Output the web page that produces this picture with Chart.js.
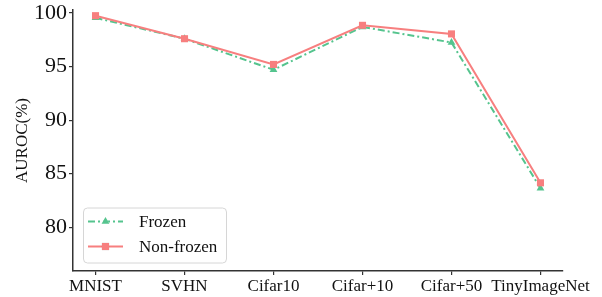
<!DOCTYPE html>
<html>
<head>
<meta charset="utf-8">
<script src="https://cdn.jsdelivr.net/npm/chart.js@4/dist/chart.umd.min.js"></script>
<style>
html,body{margin:0;padding:0;background:#fff;}
#wrap{width:602px;height:297px;position:relative;}
</style>
</head>
<body>
<div id="wrap"><canvas id="c" width="602" height="297"></canvas></div>
<script>
const categories = ["MNIST", "SVHN", "Cifar10", "Cifar+10", "Cifar+50", "TinyImageNet"];
const frozen = [99.55, 97.6, 94.7, 98.7, 97.25, 83.65];
const nonFrozen = [99.75, 97.6, 95.2, 98.85, 98.05, 84.15];
const yTicks = [80, 85, 90, 95, 100];
const seriesNames = ["Frozen", "Non-frozen"];

const GREEN = '#55c48e';
const RED = '#f77f7f';
const SERIF = "'Liberation Serif', 'Times New Roman', serif";
const AXIS = '#333333';

function pts(arr){ return arr.map((v,i)=>({x:i, y:v})); }

const legendPlugin = {
  id: 'boxLegend',
  afterDatasetsDraw(chart){
    const ctx = chart.ctx;
    const ca = chart.chartArea;
    const x0 = ca.left + 10, w = 143, h = 55;
    const y0 = ca.bottom - 8.5 - h;
    ctx.save();
    ctx.beginPath();
    if (ctx.roundRect) ctx.roundRect(x0+0.5, y0+0.5, w, h, 4); else ctx.rect(x0+0.5,y0+0.5,w,h);
    ctx.fillStyle = 'rgba(255,255,255,0.8)';
    ctx.fill();
    ctx.strokeStyle = '#d6d6d6';
    ctx.lineWidth = 1;
    ctx.stroke();
    chart.data.datasets.forEach((ds, i) => {
      const yy = y0 + 14 + i*25;
      ctx.beginPath();
      ctx.setLineDash(ds.borderDash || []);
      ctx.strokeStyle = ds.borderColor;
      ctx.lineWidth = ds.borderWidth;
      ctx.moveTo(x0+5, yy);
      ctx.lineTo(x0+40, yy);
      ctx.stroke();
      ctx.setLineDash([]);
      Chart.helpers.drawPoint(ctx, {pointStyle: ds.pointStyle, radius: ds.pointRadius, borderWidth: 0}, x0+22.5, yy);
      ctx.fillStyle = ds.backgroundColor;
      ctx.fill();
      ctx.fillStyle = '#111';
      ctx.font = "17px " + SERIF;
      ctx.textBaseline = 'middle';
      ctx.textAlign = 'left';
      ctx.fillText(ds.label, x0+56, yy+1);
    });
    ctx.restore();
  }
};

new Chart(document.getElementById('c'), {
  type: 'line',
  data: {
    datasets: [
      {label: seriesNames[0], data: pts(frozen), borderColor: GREEN, backgroundColor: GREEN,
       borderWidth: 2, borderDash: [7,3,2,3], pointStyle: 'triangle', pointRadius: 4.5,
       pointBorderWidth: 0, order: 2, tension: 0},
      {label: seriesNames[1], data: pts(nonFrozen), borderColor: RED, backgroundColor: RED,
       borderWidth: 2, pointStyle: 'rect', pointRadius: 5,
       pointBorderWidth: 0, order: 1, tension: 0}
    ]
  },
  options: {
    responsive: false,
    animation: false,
    layout: {padding: {left: 0, right: 39, top: 10, bottom: 0}},
    plugins: {legend: {display: false}, tooltip: {enabled: false}},
    scales: {
      x: {
        type: 'linear', min: -0.253, max: 5.253,
        afterBuildTicks(s){ s.ticks = categories.map((c,i)=>({value:i})); },
        afterFit(s){ s.height = 26; s.paddingLeft = 0; s.paddingRight = 0; },
        ticks: {callback: (v)=>categories[v], color: '#111', font: {family: SERIF, size: 17}, padding: 1, maxRotation: 0, autoSkip: false},
        grid: {drawOnChartArea: false, drawTicks: true, tickLength: 4, color: AXIS, lineWidth: 1.2},
        border: {display: true, color: AXIS, width: 1.5}
      },
      y: {
        min: 75.92, max: 100.28,
        afterBuildTicks(s){ s.ticks = yTicks.map(v=>({value:v})); },
        afterFit(s){ s.width = 73; s.paddingTop = 0; s.paddingBottom = 0; },
        ticks: {color: '#111', font: {family: SERIF, size: 22}, padding: 2},
        grid: {drawOnChartArea: false, drawTicks: true, tickLength: 4, color: AXIS, lineWidth: 1.2},
        border: {display: true, color: AXIS, width: 1.5},
        title: {display: true, text: 'AUROC(%)', color: '#111', font: {family: SERIF, size: 17}, padding: {top: 12, bottom: 0}}
      }
    }
  },
  plugins: [legendPlugin]
});
</script>
</body>
</html>
